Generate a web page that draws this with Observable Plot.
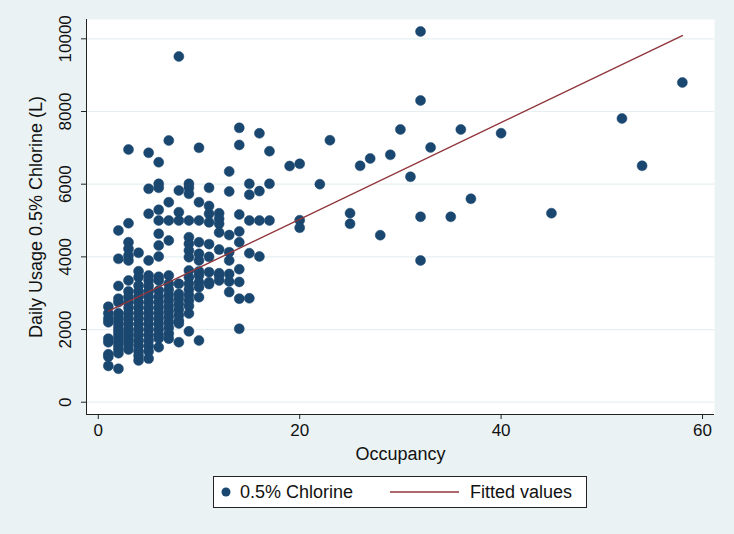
<!DOCTYPE html>
<html><head><meta charset="utf-8">
<script src="https://cdn.jsdelivr.net/npm/d3@7"></script>
<script src="https://cdn.jsdelivr.net/npm/@observablehq/plot@0.6"></script>
<style>
html,body{margin:0;padding:0;background:#eaf2f3;}
body{width:734px;height:534px;overflow:hidden;position:relative;font-family:"Liberation Sans",Arial,sans-serif;}
#chart{position:absolute;left:0;top:0;}
#legend{position:absolute;left:213px;top:476px;width:372px;height:30px;background:#fff;border:1px solid #222;font-size:18px;color:#111;}
#legend .item{position:absolute;top:0;height:30px;line-height:30px;white-space:nowrap;}
</style></head><body><div id="chart"></div><div id="legend"></div>
<script>
const occupancyLevels = [1,2,3,4,5,6,7,8,9,10,11,12,13,14,15,16,17,19,20,22,23,25,26,27,28,29,30,31,32,33,35,36,37,40,45,52,54,58];
const usageByOccupancy = [
  [2630,2450,2300,2200,1750,1650,1320,1250,1000],
  [4725,3946,3200,2850,2750,2450,2350,2250,2150,2050,1950,1850,1750,1650,1550,1450,1350,920],
  [6954,4926,4403,4222,4037,3900,3350,3050,2900,2750,2600,2450,2300,2150,2000,1900,1800,1700,1600,1450],
  [4111,3606,3440,3211,3050,2900,2750,2600,2450,2300,2150,2000,1850,1700,1550,1400,1280,1150],
  [6863,5873,5185,3900,3487,3350,3200,3050,2900,2750,2600,2450,2300,2150,2000,1850,1700,1550,1400,1200],
  [6605,6010,5900,5295,5000,4634,4312,4010,3450,3350,3073,2900,2750,2600,2450,2300,2150,2000,1850,1753,1514],
  [7202,5504,5000,4450,3487,3258,3100,2950,2800,2650,2500,2350,2200,2050,1890,1750],
  [9514,5826,5229,5000,3258,2980,2850,2700,2550,2400,2250,2165,1651],
  [6010,5900,5735,5000,4541,4359,4175,3990,3624,3440,3258,3100,2950,2800,2650,2441,1950],
  [7001,5504,5000,4403,4084,3900,3600,3487,3300,3165,2890,1698],
  [5900,5400,5185,4950,4350,4000,3580,3300,3250],
  [5200,5050,4910,4670,4200,3550,3480,3350],
  [6350,5800,4600,4130,3900,3530,3320,3030],
  [7550,7080,5165,4700,4400,3660,3310,2850,2020],
  [6010,5710,5000,4100,2860],
  [7400,5810,5000,4010],
  [6908,6010,5000],
  [6500],
  [6560,5010,4800],
  [6000],
  [7210],
  [5202,4910],
  [6506],
  [6707],
  [4597],
  [6808],
  [7505],
  [6203],
  [10202,8303,5102,3900],
  [7010],
  [5102],
  [7505],
  [5598],
  [7403],
  [5202],
  [7807],
  [6506],
  [8798]
];
const fittedOccupancy = [1, 58];
const fittedUsage = [2504, 10090];
const xTicks = [0, 20, 40, 60];
const yTicks = [0, 2000, 4000, 6000, 8000, 10000];
const xDomain = [-1.17, 61.19];
const yDomain = [-338, 10532];

const points = occupancyLevels.flatMap((o, i) => usageByOccupancy[i].map(u => ({occ: o, usage: u})));
const fitted = fittedOccupancy.map((o, i) => ({occ: o, usage: fittedUsage[i]}));

const chart = Plot.plot({
  width: 734, height: 466,
  marginLeft: 86, marginRight: 20, marginTop: 19, marginBottom: 52,
  style: {background: "transparent", fontFamily: "'Liberation Sans', Arial, sans-serif", fontSize: "17px", color: "#111"},
  x: {domain: xDomain},
  y: {domain: yDomain},
  marks: [
    Plot.frame({fill: "white", stroke: null}),
    Plot.gridY(yTicks, {stroke: "#e6eff1", strokeOpacity: 1, strokeWidth: 1.2}),
    Plot.ruleX([xDomain[0]], {stroke: "#222", strokeWidth: 1}),
    Plot.ruleY([yDomain[0]], {stroke: "#222", strokeWidth: 1}),
    Plot.axisX(xTicks, {tickSize: 5, tickPadding: 4, stroke: "#222", fontSize: 17, label: null}),
    Plot.axisX({ticks: [], tickSize: 0, label: "Occupancy", labelAnchor: "center", labelOffset: 45, labelArrow: "none", fontSize: 18}),
    Plot.axisY(yTicks, {tickSize: 5, tickPadding: 11, tickRotate: -90, stroke: "#222", fontSize: 17, tickFormat: d3.format("d"), label: null}),
    Plot.axisY({ticks: [], tickSize: 0, label: "Daily Usage 0.5% Chlorine (L)", labelAnchor: "center", labelOffset: 57, labelArrow: "none", fontSize: 18}),
    Plot.dot(points, {x: "occ", y: "usage", r: 5, fill: "#1a476f", stroke: "#1a476f", strokeWidth: 0.5}),
    Plot.line(fitted, {x: "occ", y: "usage", stroke: "#90353b", strokeWidth: 1.4})
  ]
});
document.getElementById("chart").appendChild(chart);

const legend = document.getElementById("legend");
legend.innerHTML =
  '<div class="item" style="left:6px"><svg width="12" height="30" style="vertical-align:top"><circle cx="6" cy="15" r="4.5" fill="#1a476f"/></svg></div>' +
  '<div class="item" style="left:26px">0.5% Chlorine</div>' +
  '<div class="item" style="left:176px"><svg width="70" height="30" style="vertical-align:top"><line x1="0" x2="69" y1="15" y2="15" stroke="#90353b" stroke-width="1.5"/></svg></div>' +
  '<div class="item" style="left:256px">Fitted values</div>';
</script></body></html>
